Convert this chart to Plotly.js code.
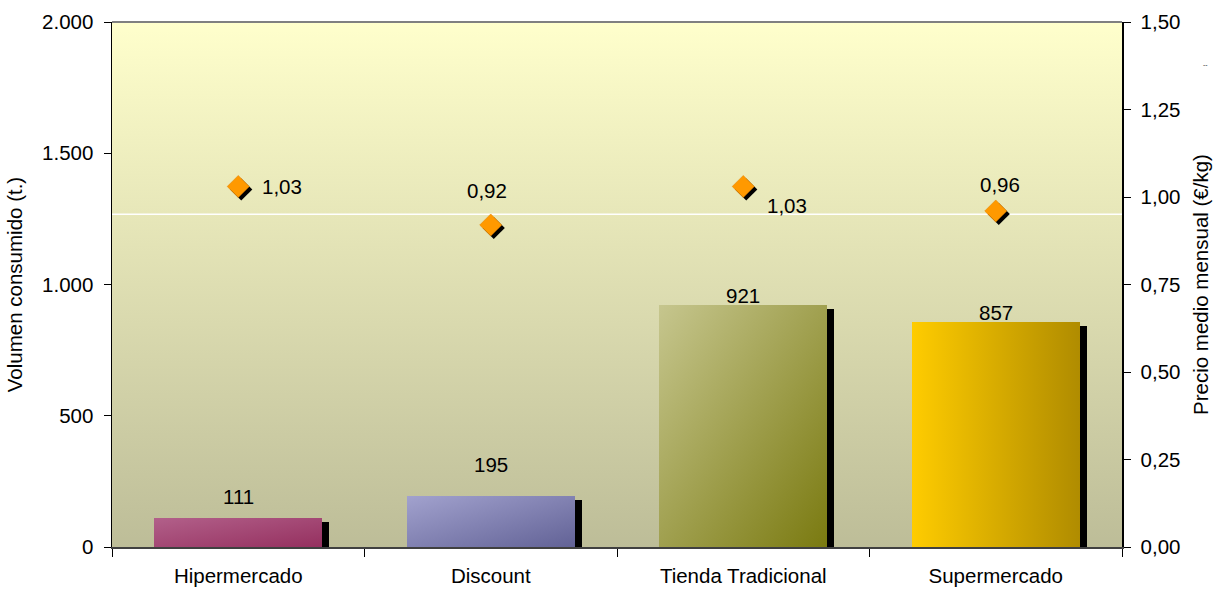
<!DOCTYPE html>
<html>
<head>
<meta charset="utf-8">
<script src="https://cdn.plot.ly/plotly-3.0.1.min.js"></script>
<style>
html,body{margin:0;padding:0;background:#fff;}
#chart{width:1220px;height:592px;}
</style>
</head>
<body>
<div id="chart"></div>
<script>
// ---- data ----
const categories = ['Hipermercado', 'Discount', 'Tienda Tradicional', 'Supermercado'];
const volumen = [111, 195, 921, 857];
const precio = [1.03, 0.92, 1.03, 0.96];

// ---- styles ----
const FONT = '"Liberation Sans", Arial, sans-serif';
const FS = 20.5;
const barBase = ['#A54A78', '#8585B5', '#A3A35A', '#E0B300'];
const barGrad = [
  {x1:0,y1:0,x2:1,y2:1, c:['#B2608A','#95305F']},
  {x1:0,y1:0,x2:1,y2:1, c:['#A2A2CE','#626296']},
  {x1:0,y1:0,x2:1,y2:1, c:['#C6C68E','#7A7A10']},
  {x1:0,y1:0,x2:1,y2:0, c:['#FFCC00','#B08C00']}
];
const barLabelShift = [21, 31, 10, 10];          // px above bar top
const priceLabelShift = [[44,0],[-4,35],[44,-19],[4,27]]; // px [x,y]

const Y1MAX = 2000, Y2MAX = 1.5, PLOT_W = 1010, PLOT_H = 525;
const idx = categories.map((c,i)=>i);
const barW = 0.665;
const shadowDx = 7 / (PLOT_W/4);        // in category units
const shadowDy = 4 * Y1MAX / PLOT_H;    // in y units
const dShadowX = 3 * 4 / PLOT_W;
const dShadowY = 3 * Y2MAX / PLOT_H;

const bgSvg = '<svg xmlns="http://www.w3.org/2000/svg" width="100" height="100" preserveAspectRatio="none">' +
  '<defs><linearGradient id="g" x1="0" y1="0" x2="0" y2="1">' +
  '<stop offset="0" stop-color="#FFFFCC"/><stop offset="1" stop-color="#BDBD98"/>' +
  '</linearGradient></defs><rect width="100" height="100" fill="url(#g)"/></svg>';

const data = [
  { type:'bar', x:categories, y:volumen.map(v=>v-shadowDy), width:barW,
    offset:-barW/2 + shadowDx, marker:{color:'#000', line:{width:0}}, hoverinfo:'skip' },
  { type:'bar', x:categories, y:volumen, width:barW, offset:-barW/2,
    marker:{color:barBase, line:{width:0}} },
  { type:'scatter', mode:'markers', x:idx.map(i=>i+dShadowX), y:precio.map(p=>p-dShadowY),
    xaxis:'x2', yaxis:'y2', marker:{symbol:'diamond', size:17, color:'#000'} },
  { type:'scatter', mode:'markers', x:idx, y:precio, xaxis:'x2', yaxis:'y2',
    marker:{symbol:'diamond', size:17, color:'#FF9900', line:{color:'#E08000', width:0.5}} }
];

const annotations = [];
volumen.forEach((v,i)=>annotations.push({
  xref:'x2', yref:'y', x:i, y:v, text:String(v), showarrow:false,
  yshift:barLabelShift[i], font:{family:FONT, size:FS, color:'#000'}
}));
precio.forEach((p,i)=>annotations.push({
  xref:'x2', yref:'y2', x:i, y:p, text:p.toFixed(2).replace('.',','), showarrow:false,
  xshift:priceLabelShift[i][0], yshift:priceLabelShift[i][1], font:{family:FONT, size:FS, color:'#000'}
}));
annotations.push({xref:'paper', yref:'paper', x:1.087, y:0.93, text:'--', showarrow:false,
  font:{family:FONT, size:7, color:'#333'}});

const layout = {
  width:1220, height:592,
  margin:{l:112, r:98, t:22, b:45, pad:0},
  paper_bgcolor:'#fff', plot_bgcolor:'rgba(0,0,0,0)',
  separators:',.',
  barmode:'overlay', bargap:0, showlegend:false,
  font:{family:FONT, size:FS, color:'#000'},
  xaxis:{ type:'category', tickson:'boundaries', ticks:'outside', ticklen:8, tickcolor:'#000',
    showline:true, linecolor:'#404040', linewidth:2, showgrid:false, zeroline:false,
    ticklabelstandoff:9,
    tickfont:{family:FONT, size:FS}, range:[-0.5,3.5] },
  xaxis2:{ overlaying:'x', range:[-0.5,3.5], visible:false },
  yaxis:{ range:[0,Y1MAX], dtick:500, tickformat:',d', ticks:'outside', ticklen:7, tickcolor:'#000',
    showline:true, linecolor:'#000', linewidth:1.5, showgrid:false, zeroline:false,
    ticklabelstandoff:6,
    tickfont:{family:FONT, size:FS},
    title:{text:'Volumen consumido (t.)', font:{family:FONT, size:FS}, standoff:14} },
  yaxis2:{ overlaying:'y', side:'right', range:[0,Y2MAX], dtick:0.25, tickformat:'.2f',
    ticks:'outside', ticklen:7, tickcolor:'#000', showline:true, linecolor:'#000', linewidth:1.5,
    ticklabelstandoff:6,
    showgrid:false, zeroline:false, tickfont:{family:FONT, size:FS},
    title:{text:'Precio medio mensual (€/kg)', font:{family:FONT, size:FS}, standoff:14} },
  images:[{ source:'data:image/svg+xml;charset=utf-8,'+encodeURIComponent(bgSvg),
    xref:'paper', yref:'paper', x:0, y:1, sizex:1, sizey:1, sizing:'stretch',
    xanchor:'left', yanchor:'top', layer:'below' }],
  shapes:[
    {type:'line', xref:'paper', yref:'paper', x0:0, x1:1, y0:1, y1:1, line:{color:'#808080', width:2}, layer:'above'},
    {type:'line', xref:'paper', yref:'paper', x0:0, x1:1, y0:0.634, y1:0.634, line:{color:'#FFFFFF', width:1.5}, layer:'below'}
  ],
  annotations:annotations
};

Plotly.newPlot('chart', data, layout, {staticPlot:true, displayModeBar:false}).then(gd=>{
  const NS = 'http://www.w3.org/2000/svg';
  const svg = gd.querySelector('.main-svg');
  let defs = svg.querySelector('defs');
  if(!defs){ defs = document.createElementNS(NS,'defs'); svg.insertBefore(defs, svg.firstChild); }
  barGrad.forEach((g,i)=>{
    const lg = document.createElementNS(NS,'linearGradient');
    lg.setAttribute('id','barGrad'+i);
    lg.setAttribute('x1',g.x1); lg.setAttribute('y1',g.y1);
    lg.setAttribute('x2',g.x2); lg.setAttribute('y2',g.y2);
    g.c.forEach((c,k)=>{
      const s = document.createElementNS(NS,'stop');
      s.setAttribute('offset', k/(g.c.length-1));
      s.setAttribute('stop-color', c);
      lg.appendChild(s);
    });
    defs.appendChild(lg);
  });
  const traces = gd.querySelectorAll('.barlayer .trace');
  if(traces.length>1){
    traces[1].querySelectorAll('.point path').forEach((p,i)=>{
      p.style.fill = 'url(#barGrad'+i+')';
    });
  }
});
</script>
</body>
</html>
